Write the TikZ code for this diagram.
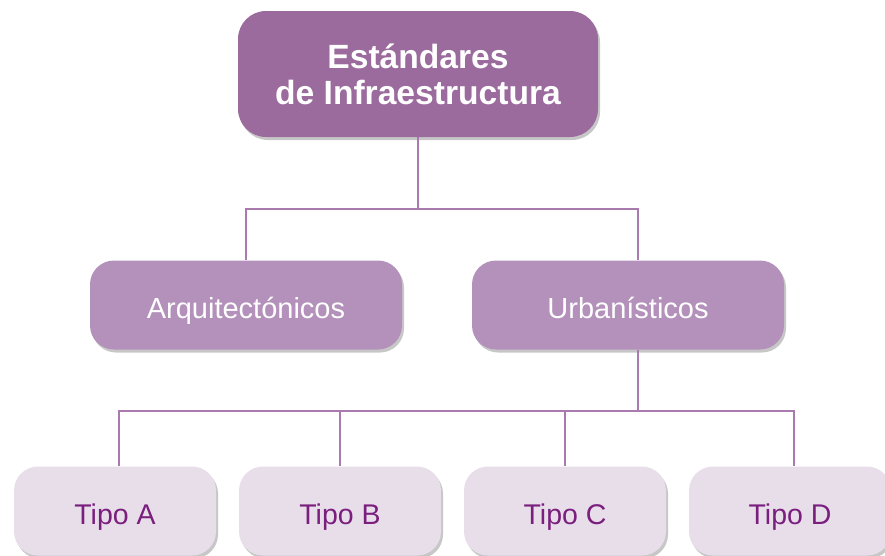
\documentclass[tikz,border=0pt]{standalone}
\usepackage{fontspec}
\setmainfont{Liberation Sans}
\usetikzlibrary{shadows}
\definecolor{topviolet}{HTML}{9B6B9E}
\definecolor{midviolet}{HTML}{B391BA}
\definecolor{lowviolet}{HTML}{E8DEEA}
\definecolor{tipotext}{HTML}{7A1F7E}
\definecolor{linkviolet}{HTML}{A87AAE}
\begin{document}
\begin{tikzpicture}[x=1pt,y=-1pt,
	shade/.style={drop shadow={shadow xshift=2pt, shadow yshift=-3pt, fill=black, opacity=0.22}},
	topbox/.style={shade, fill=topviolet, rounded corners=28pt, minimum width=360pt, minimum height=126pt, text=white, align=center, font=\fontsize{33.6}{36}\selectfont\bfseries},
	midbox/.style={shade, fill=midviolet, rounded corners=24pt, minimum width=312pt, minimum height=89pt, text height=26pt, text depth=0pt, text=white, font=\fontsize{29}{32}\selectfont},
	lowbox/.style={shade, fill=lowviolet, rounded corners=24pt, minimum width=202pt, minimum height=89pt, text height=26pt, text depth=0pt, text=tipotext, font=\fontsize{28.5}{32}\selectfont},
	link/.style={linkviolet, line width=1.2pt}]
		\useasboundingbox (0,0) rectangle (885,555);
		%Boxes
		\node[topbox] (est) at (418,74) {Estándares\\de Infraestructura};
		\node[midbox] (arq) at (246,305) {Arquitectónicos};
		\node[midbox] (urb) at (628,305) {Urbanísticos};
		\node[lowbox] (tipoA) at (115,511) {Tipo A};
		\node[lowbox] (tipoB) at (340,511) {Tipo B};
		\node[lowbox] (tipoC) at (565,511) {Tipo C};
		\node[lowbox] (tipoD) at (790,511) {Tipo D};
		%Junctions
		\coordinate (busA) at (416,209);
		\coordinate (busB) at (638,411);
		%Lines
		\draw[link] (est.south) -- (est.south |- busA);
		\draw[link] (arq.north) -- (arq.north |- busA) -- ([xshift=10pt]urb.north |- busA) -- ([xshift=10pt]urb.north);
		\draw[link] ([xshift=10pt]urb.south) -- ([xshift=10pt]urb.south |- busB);
		\draw[link] ([xshift=4pt]tipoA.north) -- ([xshift=4pt]tipoA.north |- busB) -- ([xshift=4pt]tipoD.north |- busB) -- ([xshift=4pt]tipoD.north);
		\draw[link] (tipoB.north) -- (tipoB.north |- busB);
		\draw[link] (tipoC.north) -- (tipoC.north |- busB);
\end{tikzpicture}
\end{document}
